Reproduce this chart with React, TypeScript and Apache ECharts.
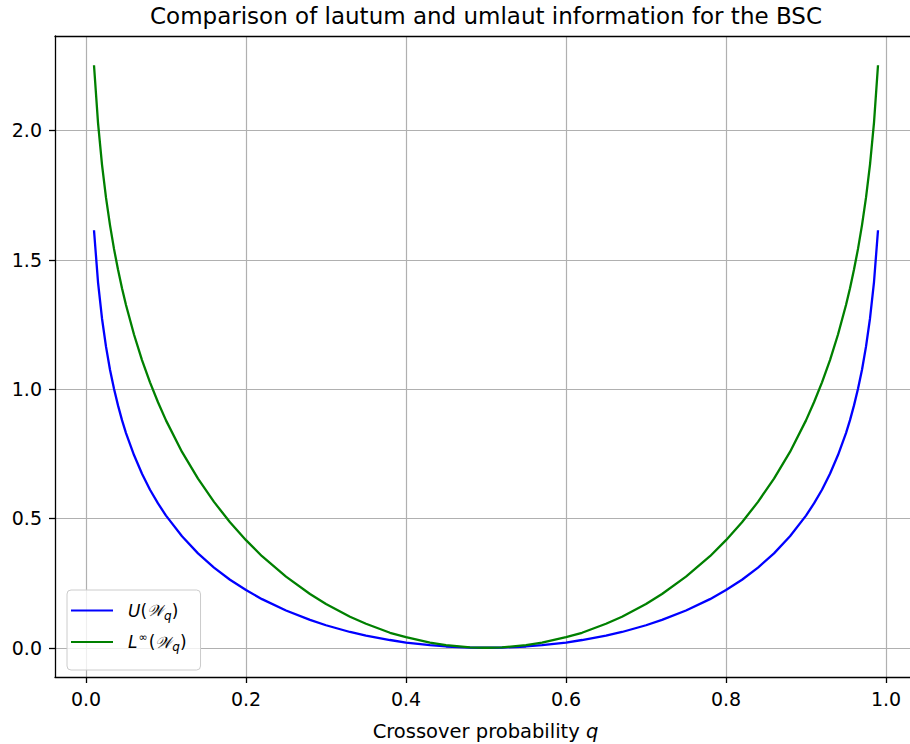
import React, { useEffect, useRef } from "react";
import * as echarts from "echarts";

const qValues = [
  0.01, 0.015, 0.02, 0.025, 0.03, 0.035, 0.04, 0.045, 0.05, 0.06, 0.07, 0.08, 0.09, 0.1,
  0.12, 0.14, 0.16, 0.18, 0.2, 0.22, 0.25, 0.28, 0.3, 0.33, 0.35, 0.38, 0.4, 0.43, 0.45,
  0.48, 0.5, 0.52, 0.55, 0.57, 0.6, 0.62, 0.65, 0.67, 0.7, 0.72, 0.75, 0.78, 0.8, 0.82,
  0.84, 0.86, 0.88, 0.9, 0.91, 0.92, 0.93, 0.94, 0.95, 0.955, 0.96, 0.965, 0.97, 0.975,
  0.98, 0.985, 0.99,
];

const uValues = [
  1.614, 1.414, 1.273, 1.164, 1.075, 1.001, 0.937, 0.88, 0.83, 0.745, 0.673, 0.611, 0.558,
  0.511, 0.431, 0.365, 0.31, 0.263, 0.223, 0.188, 0.144, 0.108, 0.087, 0.061, 0.047, 0.03,
  0.02, 0.01, 0.005, 0.0008, 0, 0.0008, 0.005, 0.01, 0.02, 0.03, 0.047, 0.061, 0.087, 0.108,
  0.144, 0.188, 0.223, 0.263, 0.31, 0.365, 0.431, 0.511, 0.558, 0.611, 0.673, 0.745, 0.83,
  0.88, 0.937, 1.001, 1.075, 1.164, 1.273, 1.414, 1.614,
];

const lValues = [
  2.252, 2.03, 1.868, 1.74, 1.634, 1.542, 1.462, 1.39, 1.325, 1.211, 1.112, 1.026, 0.949,
  0.879, 0.757, 0.654, 0.564, 0.485, 0.416, 0.354, 0.275, 0.208, 0.169, 0.12, 0.093, 0.058,
  0.041, 0.02, 0.01, 0.0016, 0, 0.0016, 0.01, 0.02, 0.041, 0.058, 0.093, 0.12, 0.169, 0.208,
  0.275, 0.354, 0.416, 0.485, 0.564, 0.654, 0.757, 0.879, 0.949, 1.026, 1.112, 1.211, 1.325,
  1.39, 1.462, 1.542, 1.634, 1.74, 1.868, 2.03, 2.252,
];

const xTicks = [0, 0.2, 0.4, 0.6, 0.8, 1.0];
const yTicks = [0, 0.5, 1.0, 1.5, 2.0];

const titleText = "Comparison of lautum and umlaut information for the BSC";
const xAxisName = "Crossover probability {i|q}";
const seriesNames = ["U", "L"];

const FONT = "DejaVu Sans";

export default function App() {
  const ref = useRef<HTMLDivElement>(null);

  useEffect(() => {
    if (!ref.current) return;
    const chart = echarts.init(ref.current, null, { renderer: "svg", width: 910, height: 744 });

    const uData = qValues.map((q, i) => [q, uValues[i]]);
    const lData = qValues.map((q, i) => [q, lValues[i]]);

    const legendRich = {
      it: { fontFamily: FONT, fontSize: 17, fontStyle: "italic", color: "#000" },
      n: { fontFamily: FONT, fontSize: 17, color: "#000" },
      w: { fontFamily: FONT, fontSize: 16, fontStyle: "italic", color: "#000" },
      sub: { fontFamily: FONT, fontSize: 12, fontStyle: "italic", color: "#000", padding: [10, 0, 0, 0] },
      sup: { fontFamily: FONT, fontSize: 11, color: "#000", padding: [0, 1, 10, 1] },
    };

    const spine = { show: true, onZero: false, lineStyle: { color: "#000", width: 1.3 } };

    chart.setOption({
      animation: false,
      backgroundColor: "#ffffff",
      textStyle: { fontFamily: FONT },
      graphic: [
        {
          type: "text",
          x: 486,
          y: 16,
          style: {
            text: titleText,
            fontFamily: FONT,
            fontSize: 23,
            fill: "#000",
            align: "center",
            verticalAlign: "middle",
          },
        },
      ],
      grid: {
        left: 55,
        top: 36,
        right: -20,
        bottom: 67,
        show: false,
        containLabel: false,
        outerBoundsMode: "none",
      },
      legend: {
        orient: "vertical",
        left: 67,
        top: 590,
        data: seriesNames,
        icon: "rect",
        itemWidth: 42,
        itemHeight: 2,
        itemGap: 10,
        padding: [12, 14, 17, 4],
        backgroundColor: "rgba(255,255,255,0.8)",
        borderColor: "#cccccc",
        borderWidth: 1,
        borderRadius: 4,
        formatter: (name: string) =>
          name === "U"
            ? "{it|U}{n|(}{w|𝒲}{sub|q}{n|)}"
            : "{it|L}{sup|∞}{n|(}{w|𝒲}{sub|q}{n|)}",
        textStyle: { fontFamily: FONT, fontSize: 17, padding: [0, 0, 0, 10], rich: legendRich },
      },
      xAxis: [
        {
          type: "value",
          position: "bottom",
          min: -0.03875,
          max: 1.055,
          name: xAxisName,
          nameLocation: "middle",
          nameGap: 44,
          nameTextStyle: {
            fontFamily: FONT,
            fontSize: 19.5,
            color: "#000",
            padding: [0, 14, 0, 0],
            rich: { i: { fontFamily: FONT, fontSize: 19.5, fontStyle: "italic", color: "#000" } },
          },
          axisLine: spine,
          axisTick: {
            show: true,
            inside: false,
            length: 6,
            customValues: xTicks,
            lineStyle: { color: "#000", width: 1.3 },
          },
          axisLabel: {
            customValues: xTicks,
            margin: 12,
            fontFamily: FONT,
            fontSize: 19,
            color: "#000",
            formatter: (v: number) => v.toFixed(1),
          },
          splitLine: { show: true, lineStyle: { color: "#b0b0b0", width: 1.2 } },
        },
        {
          type: "value",
          position: "top",
          min: -0.03875,
          max: 1.055,
          axisLine: spine,
          axisTick: { show: false },
          axisLabel: { show: false },
          splitLine: { show: false },
        },
      ],
      yAxis: {
        type: "value",
        position: "left",
        min: -0.113,
        max: 2.365,
        axisLine: spine,
        axisTick: {
          show: true,
          inside: false,
          length: 6,
          customValues: yTicks,
          lineStyle: { color: "#000", width: 1.3 },
        },
        axisLabel: {
          customValues: yTicks,
          margin: 13,
          fontFamily: FONT,
          fontSize: 19,
          color: "#000",
          formatter: (v: number) => v.toFixed(1),
        },
        splitLine: { show: true, lineStyle: { color: "#b0b0b0", width: 1.2 } },
      },
      series: [
        {
          name: "U",
          type: "line",
          xAxisIndex: 0,
          data: uData,
          symbol: "none",
          showSymbol: false,
          smooth: false,
          color: "#0000ff",
          lineStyle: { color: "#0000ff", width: 2.3 },
          z: 3,
        },
        {
          name: "L",
          type: "line",
          xAxisIndex: 0,
          data: lData,
          symbol: "none",
          showSymbol: false,
          smooth: false,
          color: "#008000",
          lineStyle: { color: "#008000", width: 2.3 },
          z: 4,
        },
      ],
    });

    return () => chart.dispose();
  }, []);

  return (
    <div
      ref={ref}
      style={{ position: "absolute", left: 0, top: 0, width: 910, height: 744, overflow: "hidden" }}
    />
  );
}
